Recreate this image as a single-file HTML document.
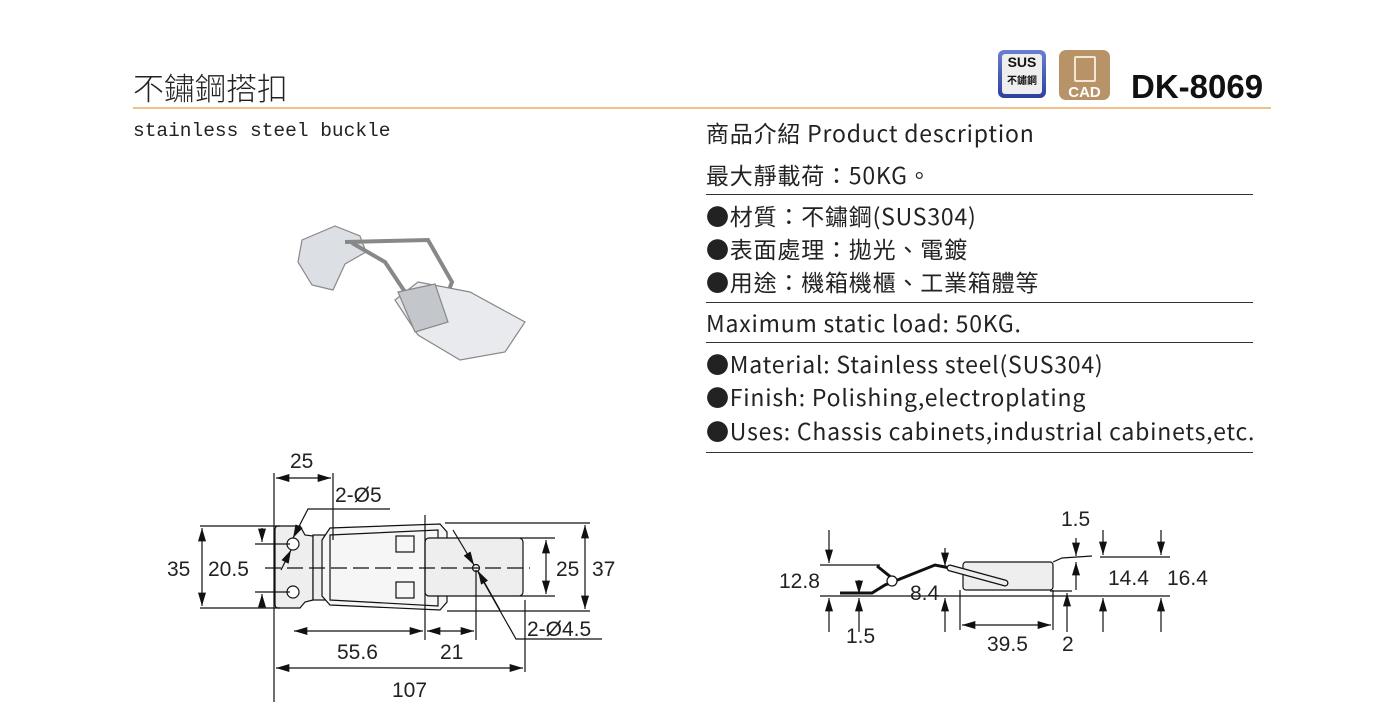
<!DOCTYPE html>
<html><head><meta charset="utf-8"><style>
body{margin:0;background:#fff;width:1400px;height:725px;overflow:hidden;position:relative;font-family:"Liberation Sans","Noto Sans CJK TC",sans-serif;color:#222}
.t{position:absolute;white-space:nowrap}
.r{font-size:23px;letter-spacing:0.8px;left:706px;font-family:"Noto Sans CJK TC",sans-serif;line-height:30px}
.hl{position:absolute;left:706px;width:547px;height:1px;background:#333}
</style></head><body>
<div class="t" style="left:133px;top:64px;font-size:31px;font-family:'Noto Sans CJK TC',sans-serif;font-weight:300">不鏽鋼搭扣</div>
<div style="position:absolute;left:133px;top:107px;width:1138px;height:2px;background:#f2c08a"></div>
<div class="t" style="left:133px;top:120px;font-size:19.5px;font-family:'Liberation Mono',monospace">stainless steel buckle</div>
<div style="position:absolute;left:998px;top:50px;width:48px;height:48px;border-radius:6px;background:linear-gradient(#6a7fd0,#2e3f9e);"><div style="margin:4px;background:#eee;border-radius:3px;height:40px;text-align:center;font-weight:bold;font-size:14px;line-height:17px;color:#111">SUS<br><span style="font-size:10px">不鏽鋼</span></div></div>
<div style="position:absolute;left:1059px;top:50px;width:51px;height:50px;border-radius:7px;background:#b89368;color:#fff;font-weight:bold;font-size:15px;text-align:center"><div style="margin:6px auto 2px;width:18px;height:22px;border:2px solid #f3e6d3;border-radius:2px"></div>CAD</div>
<div class="t" style="left:1131px;top:68px;font-size:33px;font-weight:bold;color:#111">DK-8069</div>
<div class="t r" style="top:117px">商品介紹 Product description</div>
<div class="t r" style="top:159px">最大靜載荷：50KG。</div>
<div class="hl" style="top:194px"></div>
<div class="t r" style="top:200px">●材質：不鏽鋼(SUS304)</div>
<div class="t r" style="top:233px">●表面處理：拋光、電鍍</div>
<div class="t r" style="top:266px">●用途：機箱機櫃、工業箱體等</div>
<div class="hl" style="top:302px"></div>
<div class="t r" style="top:307px">Maximum static load: 50KG.</div>
<div class="hl" style="top:342px"></div>
<div class="t r" style="top:348px">●Material: Stainless steel(SUS304)</div>
<div class="t r" style="top:381px">●Finish: Polishing,electroplating</div>
<div class="t r" style="top:415px">●Uses: Chassis cabinets,industrial cabinets,etc.</div>
<div class="hl" style="top:452px"></div>
<svg style="position:absolute;left:0;top:0" width="1400" height="725" font-family="Liberation Sans,sans-serif" font-size="21" fill="none" stroke="#111" stroke-width="1.2">
<defs><marker id="a" viewBox="0 0 10 6" refX="10" refY="3" markerWidth="14" markerHeight="8" orient="auto-start-reverse" markerUnits="userSpaceOnUse"><path d="M0,0L10,3L0,6z" fill="#111" stroke="none"/></marker></defs>
<!-- photo -->
<g stroke="#888" fill="#dcdfe3">
<path d="M302 240L335 226L360 236L366 252L345 264L333 290L312 285L298 262z"/>
<path d="M345 242L428 240L452 282L445 300" stroke-width="4" fill="none"/>
<path d="M352 243L385 262L405 292" stroke-width="4" fill="none"/>
<path d="M395 300L418 282L470 292L525 322L505 352L460 360L418 335z" fill="#e8eaed"/>
<path d="M398 292L435 284L448 322L415 332z" fill="#c3c7cc"/>
</g>
<!-- front view -->
<path d="M278 526H300L305 535L313 536V600L305 602L300 608H278Q275 608 275 604V530Q275 526 278 526z" fill="#eee"/>
<rect x="313" y="535" width="20" height="65" fill="#eee"/>
<path d="M322 540L330 528L440 524L447 532L447 602L440 610L330 605L322 596z" fill="#f6f6f6"/>
<path d="M330 535L438 530V606L330 600z"/>
<rect x="425" y="538" width="98" height="58" rx="4" fill="#eee"/>
<rect x="396" y="536" width="18" height="16"/><rect x="396" y="582" width="18" height="16"/>
<circle cx="293" cy="544" r="6" fill="#fff"/><circle cx="293" cy="592" r="6" fill="#fff"/><circle cx="476" cy="568" r="3.5"/>
<path d="M265 568H530" stroke-dasharray="16 6"/>
<path d="M274 473V702M333 473V540M425 515V640M476 570V640M525 600V672"/>
<path d="M276 478H331" marker-start="url(#a)" marker-end="url(#a)"/>
<path d="M200 526H280M200 608H280M255 544H290M255 592H290M520 538H555M520 596H555M445 523H590M447 611H590"/>
<path d="M202 528V606" marker-start="url(#a)" marker-end="url(#a)"/>
<path d="M262 528V542" marker-end="url(#a)"/><path d="M262 608V594" marker-end="url(#a)"/>
<path d="M546 540V594" marker-start="url(#a)" marker-end="url(#a)"/>
<path d="M585 525V609" marker-start="url(#a)" marker-end="url(#a)"/>
<path d="M294 631H423" marker-start="url(#a)" marker-end="url(#a)"/>
<path d="M427 631H474" marker-start="url(#a)" marker-end="url(#a)"/>
<path d="M276 668H523" marker-start="url(#a)" marker-end="url(#a)"/>
<path d="M390 509H308L293 538" marker-end="url(#a)"/><path d="M281 570L291 550" marker-end="url(#a)"/>
<path d="M602 639H516L478 572"/><path d="M453 530L474 565" marker-end="url(#a)"/><path d="M500 610L478 571" marker-end="url(#a)"/>
<g fill="#222" stroke="none"><text x="290" y="468">25</text><text x="335" y="502">2-Ø5</text><text x="167" y="576">35</text><text x="208" y="576">20.5</text><text x="556" y="576">25</text><text x="592" y="576">37</text><text x="337" y="659">55.6</text><text x="440" y="659">21</text><text x="392" y="697">107</text><text x="527" y="636">2-Ø4.5</text></g>
<!-- side view -->
<path d="M840 593H872L885 585L935 565L950 568L1005 583" stroke-width="3"/>
<path d="M877 566L892 578" stroke-width="3"/><circle cx="892" cy="581" r="5" fill="#fff"/>
<rect x="963" y="562" width="90" height="28" rx="3" fill="#eee"/>
<path d="M1053 562L1062 558L1092 556"/>
<path d="M950 568L1005 583" stroke-width="7" stroke-linecap="round"/><path d="M950 568L1005 583" stroke-width="4.5" stroke="#eee" stroke-linecap="round"/>
<path d="M948 596H1060M820 596H1170M820 565H880M1100 557H1170M1050 591H1072"/>
<path d="M829 530V563" marker-end="url(#a)"/><path d="M829 632V598" marker-end="url(#a)"/>
<path d="M859 580V594" marker-end="url(#a)"/><path d="M859 632V598" marker-end="url(#a)"/>
<path d="M945 548V566" marker-end="url(#a)"/><path d="M945 632V598" marker-end="url(#a)"/>
<path d="M1076 538V556" marker-end="url(#a)"/><path d="M1076 590V562" marker-end="url(#a)"/>
<path d="M1067 632V593" marker-end="url(#a)"/>
<path d="M1103 530V555" marker-end="url(#a)"/><path d="M1103 632V598" marker-end="url(#a)"/>
<path d="M1161 530V555" marker-end="url(#a)"/><path d="M1161 632V598" marker-end="url(#a)"/>
<path d="M960 590V630M1053 590V630"/><path d="M962 625H1051" marker-start="url(#a)" marker-end="url(#a)"/>
<g fill="#222" stroke="none"><text x="779" y="588">12.8</text><text x="846" y="643">1.5</text><text x="910" y="600">8.4</text><text x="987" y="651">39.5</text><text x="1062" y="651">2</text><text x="1061" y="526">1.5</text><text x="1108" y="585">14.4</text><text x="1167" y="585">16.4</text></g>
</svg>
</body></html>
